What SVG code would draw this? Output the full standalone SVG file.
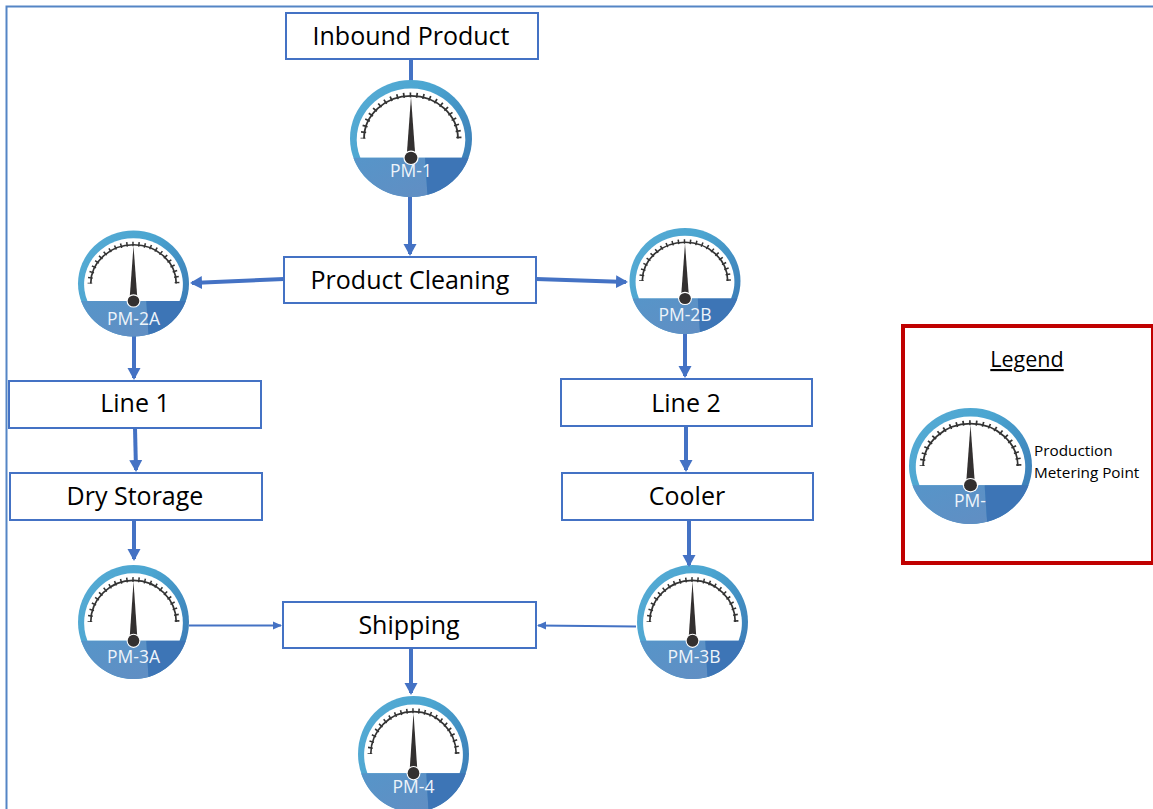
<svg xmlns="http://www.w3.org/2000/svg" width="1153" height="809" viewBox="0 0 1153 809">
<style>
text{font-family:"Open Sans","Noto Sans",sans-serif}
.box{fill:#fff;stroke:#4472c4;stroke-width:2}
.lbl{font-size:25px;fill:#000;text-anchor:middle}
.pm{font-size:17.500px;fill:#eef4fa;text-anchor:middle}
.leg{font-size:15.300px;fill:#000}
.thick{fill:none;stroke:#4472c4;stroke-width:4;marker-end:url(#ah)}
.thin{fill:none;stroke:#4472c4;stroke-width:2.200;marker-end:url(#at)}
</style>
<defs>
<linearGradient id="ring" x1="0" y1="0" x2="1" y2="0.6"><stop offset="0" stop-color="#58abd4"/><stop offset="0.5" stop-color="#4ba6d1"/><stop offset="1" stop-color="#3d80b9"/></linearGradient>
<linearGradient id="band" x1="0" y1="0" x2="1" y2="1"><stop offset="0" stop-color="#5695c9"/><stop offset="1" stop-color="#618ec3"/></linearGradient>
<marker id="ah" markerUnits="userSpaceOnUse" markerWidth="14" markerHeight="14" viewBox="0 0 14 14" refX="10" refY="7" orient="auto"><path d="M0 0.500L12 7L0 13.500Z" fill="#4472c4"/></marker>
<marker id="at" markerUnits="userSpaceOnUse" markerWidth="10" markerHeight="10" viewBox="0 0 10 10" refX="8" refY="5" orient="auto"><path d="M0 1L9 5L0 9Z" fill="#4472c4"/></marker>
<g id="gauge">
<circle r="1" fill="url(#ring)"/>
<path d="M-.83 .33A.89 .87 0 1 1 .83 .33Z" fill="#fff"/>
<path d="M-.944 .33A1 1 0 0 0 .27 .963L.23 .33Z" fill="url(#band)"/>
<path d="M.23 .33L.944 .33A1 1 0 0 1 .27 .963Z" fill="#3d75b6"/>
<path d="M-.77 0A.77 .73 0 0 1 .77 0" fill="none" stroke="#333" stroke-width=".03"/>
<path d="M-.785 0A.785 .745 0 0 1 .785 0" fill="none" stroke="#333" stroke-width=".085" pathLength="200" stroke-dasharray="2.500 7.500" stroke-dashoffset="1.250"/>
<path d="M0 -.71L.068 .26L-.068 .26Z" fill="#333030"/>
<circle cy=".33" r=".125" fill="#fff"/>
<circle cy=".33" r=".105" fill="#333030"/>
</g>
</defs>
<rect width="1153" height="809" fill="#fff"/>
<path id="frame" d="M6.500 809V6.500H1153" fill="none" stroke="#5585c5" stroke-width="2"/>
<g id="connectors">
<path d="M411 59V84" fill="none" stroke="#4472c4" stroke-width="4"/>
<path class="thick" d="M410 197V254"/>
<path class="thick" d="M284 279L192 283"/>
<path class="thick" d="M536 279L626 282"/>
<path class="thick" d="M134 335V378"/>
<path class="thick" d="M135 428L136 470"/>
<path class="thick" d="M134 520V559"/>
<path class="thick" d="M685 333V376"/>
<path class="thick" d="M686 426V470"/>
<path class="thin" d="M189 625.500L281 625.500"/>
<path class="thin" d="M636 626.500L538 625.500"/>
</g>
<g id="gauge-pm1"><use href="#gauge" transform="translate(411 138.500) scale(61 58.500)"/><text class="pm" x="411" y="177">PM-1</text></g>
<g id="gauge-pm2a"><use href="#gauge" transform="translate(133.500 283.500) scale(55.500 53)"/><text class="pm" x="133.500" y="325">PM-2A</text></g>
<g id="gauge-pm2b"><use href="#gauge" transform="translate(685 281) scale(55.500 53)"/><text class="pm" x="685" y="321">PM-2B</text></g>
<g id="gauge-pm3a"><use href="#gauge" transform="translate(133.500 622) scale(55.500 57)"/><text class="pm" x="133.500" y="663">PM-3A</text></g>
<g id="gauge-pm3b"><use href="#gauge" transform="translate(692.500 622) scale(55.500 57)"/><text class="pm" x="694" y="663">PM-3B</text></g>
<g id="gauge-pm4"><use href="#gauge" transform="translate(413.500 754) scale(55.500 58)"/><text class="pm" x="413.500" y="793">PM-4</text></g>
<g id="node-inbound"><rect class="box" x="286" y="13" width="252" height="46"/><text class="lbl" x="411" y="45">Inbound Product</text></g>
<g id="node-cleaning"><rect class="box" x="284" y="257" width="252" height="46"/><text class="lbl" x="410" y="289">Product Cleaning</text></g>
<g id="node-line1"><rect class="box" x="9" y="381" width="252" height="47"/><text class="lbl" x="135" y="412">Line 1</text></g>
<g id="node-line2"><rect class="box" x="561" y="379" width="251" height="47"/><text class="lbl" x="686" y="412">Line 2</text></g>
<g id="node-dry"><rect class="box" x="10" y="473" width="252" height="47"/><text class="lbl" x="135" y="505">Dry Storage</text></g>
<g id="node-cooler"><rect class="box" x="562" y="473" width="251" height="47"/><text class="lbl" x="687" y="505">Cooler</text></g>
<g id="node-shipping"><rect class="box" x="283" y="602" width="253" height="46"/><text class="lbl" x="409" y="634">Shipping</text></g>
<g id="connectors-over">
<path class="thick" d="M689 520V565"/>
<path class="thick" d="M411 648V693"/>
</g>
<g id="legend">
<rect x="903" y="326" width="250" height="237" fill="#fff" stroke="#c00000" stroke-width="4"/>
<text x="1027" y="367" font-size="21.500" text-anchor="middle" fill="#000" text-decoration="underline">Legend</text>
<use href="#gauge" transform="translate(970.500 466) scale(61.500 58)"/>
<text class="pm" x="970" y="507">PM-</text>
<text class="leg" x="1034" y="456">Production</text>
<text class="leg" x="1034" y="478">Metering Point</text>
</g>
</svg>
